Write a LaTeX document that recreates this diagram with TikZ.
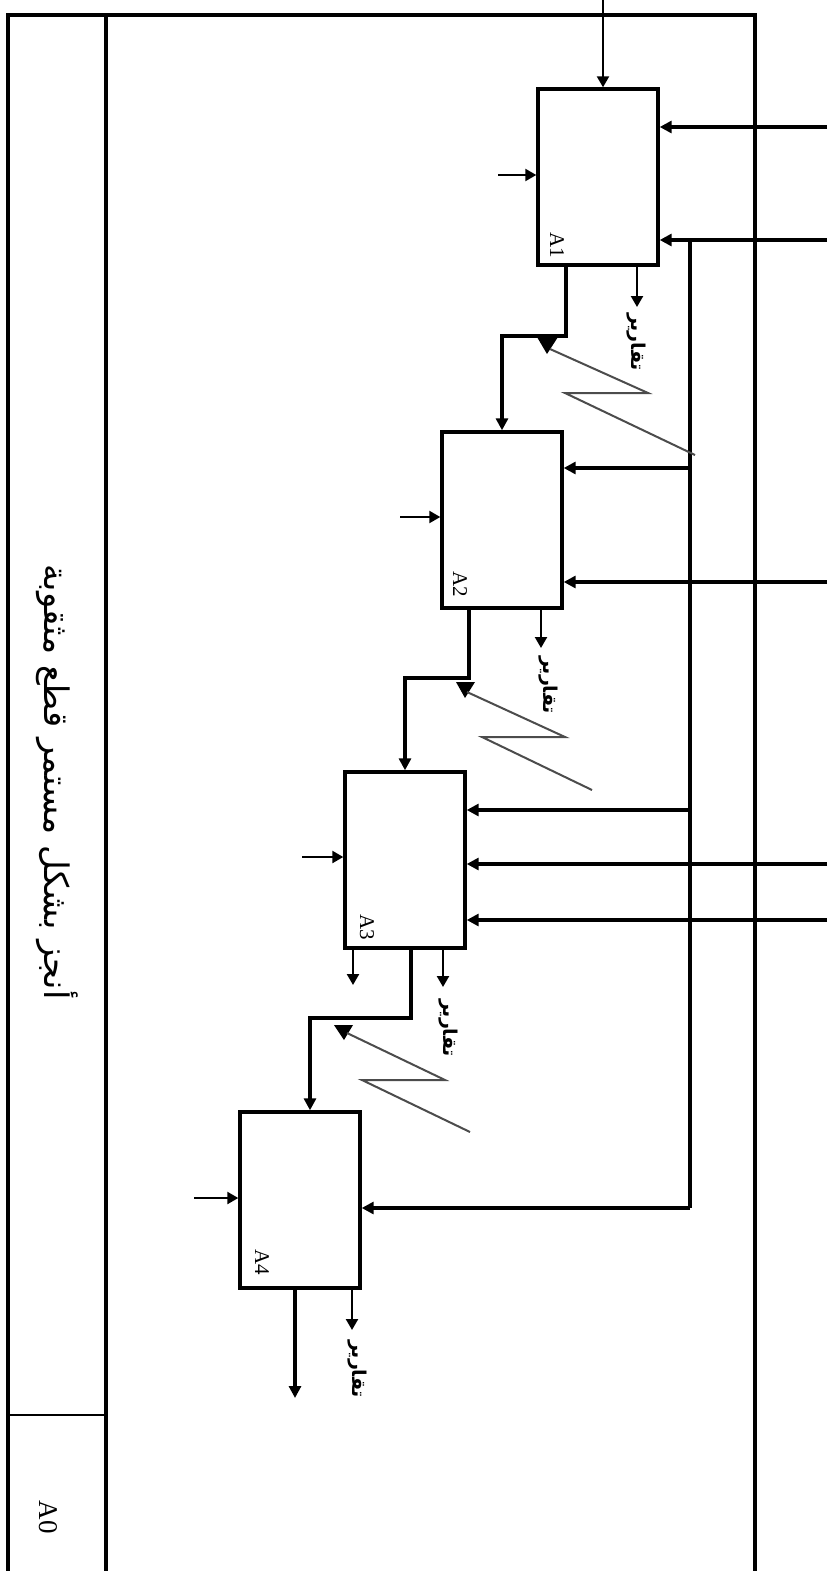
\documentclass[tikz,border=0pt]{standalone}
\usepackage{fontspec}
\setmainfont{Liberation Serif}
\newfontfamily\arabicfont[Script=Arabic]{DejaVu Sans}
\TeXXeTstate=1
\usetikzlibrary{arrows.meta}
\begin{document}
\begin{tikzpicture}[x=1pt,y=-1pt,
  box/.style={draw,line width=3.4pt,minimum width=120pt,minimum height=176pt,inner sep=0pt},
  frameline/.style={line width=3.4pt},
  thk/.style={line width=3.4pt,-{Triangle[length=12pt,width=12pt]}},
  thkline/.style={line width=3.4pt},
  thn/.style={line width=2.3pt,-{Triangle[length=11pt,width=12pt]}},
  zig/.style={line width=2pt,draw=black!70},
  rep/.style={rotate=-90,font=\arabicfont\bfseries,inner sep=0pt},
  idlbl/.style={rotate=-90,font=\fontsize{21}{21}\selectfont,inner sep=0pt},
]
\useasboundingbox (0,0) rectangle (827,1571);
\fill[white] (0,0) rectangle (827,1571);

% frame
\draw[frameline] (8,1571) -- (8,15) -- (755,15) -- (755,1571);
\draw[frameline] (106,15) -- (106,1571);
\draw[line width=2.4pt] (8,1415) -- (106,1415);
\node[rotate=-90] (title) at (57,782) {\arabicfont\resizebox{435pt}{!}{\beginR أنجز بشكل مستمر قطع مثقوبة\endR}};
\node[rotate=-90,font=\fontsize{27}{27}\selectfont] (a0) at (48,1517) {A0};

% boxes
\node[box] (A1) at (598,177) {};
\node[box] (A2) at (502,520) {};
\node[box] (A3) at (405,860) {};
\node[box] (A4) at (300,1200) {};
\node[idlbl] (l1) at (557,245) {A1};
\node[idlbl] (l2) at (460,584) {A2};
\node[idlbl] (l3) at (367,927) {A3};
\node[idlbl] (l4) at (262,1262) {A4};

% control
\coordinate (c1) at (603,0);
\draw[thn] (c1) -- (c1 |- A1.north);

% left arrows
\coordinate (m1) at (498,175);
\coordinate (m2) at (400,517);
\coordinate (m3) at (302,857);
\coordinate (m4) at (194,1198);
\draw[thn] (m1) -- (m1 -| A1.west);
\draw[thn] (m2) -- (m2 -| A2.west);
\draw[thn] (m3) -- (m3 -| A3.west);
\draw[thn] (m4) -- (m4 -| A4.west);

% right inputs
\coordinate (i1) at (827,127);
\coordinate (i2) at (827,240);
\coordinate (i3) at (827,582);
\coordinate (i4) at (827,864);
\coordinate (i5) at (827,920);
\draw[thk] (i1) -- (i1 -| A1.east);
\draw[thk] (i2) -- (i2 -| A1.east);
\draw[thk] (i3) -- (i3 -| A2.east);
\draw[thk] (i4) -- (i4 -| A3.east);
\draw[thk] (i5) -- (i5 -| A3.east);

% vertical distribution line
\coordinate (v0) at (690,240);
\coordinate (v2) at (690,468);
\coordinate (v3) at (690,810);
\coordinate (v4) at (690,1208);
\draw[thkline] (v0) -- (v4);
\draw[thk] (v2) -- (v2 -| A2.east);
\draw[thk] (v3) -- (v3 -| A3.east);
\draw[thk] (v4) -- (v4 -| A4.east);

% outputs between boxes
\coordinate (o1) at (566,336);
\coordinate (o2) at (469,678);
\coordinate (o3) at (411,1018);
\coordinate (o3b) at (310,1018);
\draw[thk] (o1 |- A1.south) -- (o1) -- (o1 -| A2.north) -- (A2.north);
\draw[thk] (o2 |- A2.south) -- (o2) -- (o2 -| A3.north) -- (A3.north);
\draw[thk] (o3 |- A3.south) -- (o3) -- (o3b) -- (o3b |- A4.north);
\coordinate (o4) at (295,1398);
\draw[thk] (o4 |- A4.south) -- (o4);

% report arrows
\coordinate (p1) at (637,307);
\coordinate (p2) at (541,648);
\coordinate (p3) at (443,987);
\coordinate (p4) at (352,1330);
\coordinate (q3) at (353,985);
\draw[thn] (p1 |- A1.south) -- (p1);
\draw[thn] (p2 |- A2.south) -- (p2);
\draw[thn] (p3 |- A3.south) -- (p3);
\draw[thn] (p4 |- A4.south) -- (p4);
\draw[thn] (q3 |- A3.south) -- (q3);
\node[rep] (r1) at (636,342) {\resizebox{58pt}{!}{\beginR تقارير\endR}};
\node[rep] (r2) at (548,685) {\resizebox{58pt}{!}{\beginR تقارير\endR}};
\node[rep] (r3) at (448,1028) {\resizebox{58pt}{!}{\beginR تقارير\endR}};
\node[rep] (r4) at (357,1369) {\resizebox{58pt}{!}{\beginR تقارير\endR}};

% zigzags
\fill (537,337) -- (558,337) -- (547,354) -- cycle;
\draw[zig] (550,349) -- (648,393) -- (565,393) -- (695,455);
\fill (456,682) -- (475,682) -- (465,698) -- cycle;
\draw[zig] (467,692) -- (565,737) -- (482,737) -- (592,790);
\fill (334,1025) -- (353,1025) -- (344,1040) -- cycle;
\draw[zig] (347,1033) -- (445,1080) -- (362,1080) -- (470,1132);
\end{tikzpicture}
\end{document}
